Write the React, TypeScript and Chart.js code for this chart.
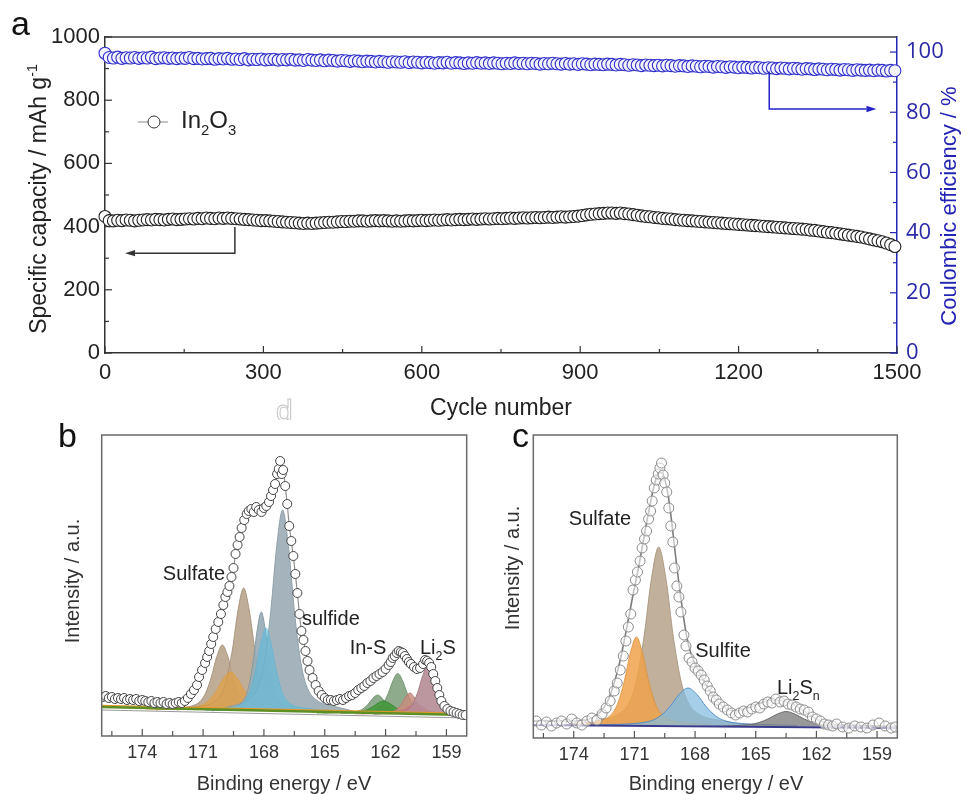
import React, { useEffect, useRef } from "react";
import { Chart, registerables } from "chart.js";
Chart.register(...registerables);

const FONT = '"Liberation Sans", Arial, sans-serif';
const FONT_R = '"Open Sans", "Liberation Sans", sans-serif';

// ================= Panel a data =================
const CYCLE_STEP = 8;
const CAPACITY = [
  432, 419, 418, 420, 419, 421, 420, 418, 420, 421,
  422, 421, 423, 422, 421, 423, 424, 422, 423, 424,
  425, 424, 426, 425, 427, 426, 425, 427, 426, 427,
  426, 425, 424, 423, 422, 421, 420, 419, 419, 418,
  417, 416, 415, 414, 413, 412, 411, 410, 411, 410,
  411, 412, 413, 414, 414, 415, 416, 416, 417, 417,
  418, 418, 417, 418, 419, 418, 419, 418, 417, 418,
  417, 418, 419, 418, 419, 420, 419, 420, 421, 420,
  421, 422, 421, 422, 423, 422, 423, 424, 423, 424,
  425, 424, 425, 426, 425, 426, 427, 426, 427, 428,
  427, 428, 429, 428, 429, 430, 429, 430, 431, 430,
  431, 432, 433, 435, 437, 439, 440, 441, 442, 443,
  443, 442, 443, 441, 440, 438, 436, 434, 432, 431,
  429, 428, 426, 425, 424, 422, 421, 420, 419, 418,
  417, 416, 415, 414, 413, 412, 411, 410, 409, 408,
  407, 406, 405, 404, 403, 402, 401, 400, 399, 398,
  397, 396, 395, 394, 393, 392, 391, 389, 388, 386,
  384, 382, 381, 379, 377, 375, 373, 371, 369, 367,
  364, 361, 358, 355, 352, 348, 343, 337,
];
const EFFICIENCY = [
  99.6, 98.2, 98.0, 98.3, 97.9, 98.1, 98.0, 98.2, 97.9, 98.1,
  98.0, 98.3, 97.8, 98.0, 98.1, 97.9, 98.0, 97.8, 98.0, 97.9,
  98.2, 97.8, 97.9, 97.7, 97.8, 97.9, 97.6, 97.8, 97.7, 97.9,
  97.6, 97.7, 97.5, 97.8, 97.4, 97.6, 97.5, 97.7, 97.4, 97.5,
  97.6, 97.3, 97.5, 97.4, 97.6, 97.3, 97.4, 97.2, 97.5, 97.3,
  97.2, 97.4, 97.1, 97.3, 97.2, 97.0, 97.2, 97.1, 96.9, 97.1,
  97.0, 96.8, 97.0, 96.9, 96.7, 96.9, 96.8, 96.6, 96.8, 96.7,
  96.6, 96.8, 96.5, 96.7, 96.6, 96.4, 96.6, 96.5, 96.3, 96.5,
  96.4, 96.6, 96.3, 96.5, 96.4, 96.2, 96.4, 96.3, 96.5, 96.3,
  96.4, 96.2, 96.4, 96.3, 96.1, 96.3, 96.2, 96.4, 96.2, 96.3,
  96.1, 96.3, 96.2, 96.0, 96.2, 96.1, 96.3, 96.1, 96.0, 96.2,
  96.0, 96.1, 95.9, 96.1, 96.0, 95.8, 96.0, 95.9, 95.8, 96.0,
  95.9, 95.7, 95.9, 95.8, 95.6, 95.8, 95.7, 95.5, 95.7, 95.6,
  95.5, 95.6, 95.4, 95.6, 95.5, 95.3, 95.5, 95.4, 95.2, 95.4,
  95.3, 95.1, 95.3, 95.2, 95.0, 95.2, 95.1, 94.9, 95.1, 95.0,
  94.8, 95.0, 94.9, 94.7, 94.9, 94.8, 94.6, 94.8, 94.7, 94.5,
  94.7, 94.6, 94.4, 94.6, 94.5, 94.3, 94.5, 94.4, 94.2, 94.4,
  94.3, 94.1, 94.3, 94.2, 94.0, 94.2, 94.1, 93.9, 94.1, 94.0,
  93.9, 94.0, 93.8, 94.0, 93.9, 93.7, 93.9, 93.8,
];
const CYCLE_TICKS = [0, 300, 600, 900, 1200, 1500];
const CAP_TICKS = [0, 200, 400, 600, 800, 1000];
const CE_TICKS = [0, 20, 40, 60, 80, 100];
// arrow annotations: [cycle, value]
const CAP_ARROW = [[246, 399], [246, 316], [38, 316]];
const CE_ARROW = [[1258, 93.5], [1258, 81.1], [1461, 81.1]];

// ================= Panel b data (binding energy eV, intensity a.u.) =================
const BE_TICKS = [174, 171, 168, 165, 162, 159];
const B_RAW = [
  [175.95, 39], [175.8, 40], [175.65, 38], [175.5, 39], [175.35, 37], [175.2, 38], [175.05, 37], [174.9, 38],
  [174.75, 36], [174.6, 37], [174.45, 36], [174.3, 37], [174.15, 35], [174.0, 36], [173.85, 35], [173.7, 34],
  [173.55, 35], [173.4, 33], [173.25, 34], [173.1, 33], [172.95, 34], [172.8, 32], [172.65, 33], [172.5, 32],
  [172.35, 33], [172.2, 34], [172.05, 33], [171.9, 35], [171.75, 38], [171.6, 42], [171.45, 46], [171.3, 51],
  [171.2, 59], [171.05, 66], [170.9, 73], [170.8, 79], [170.7, 85], [170.6, 92], [170.5, 99], [170.38, 107],
  [170.25, 114], [170.12, 122], [170.0, 131], [169.9, 139], [169.8, 144], [169.7, 150], [169.6, 159], [169.5, 168],
  [169.4, 182], [169.3, 191], [169.2, 199], [169.1, 208], [168.97, 216], [168.85, 222], [168.75, 225], [168.62, 227],
  [168.5, 224], [168.38, 229], [168.25, 226], [168.12, 224], [168.0, 228], [167.88, 230], [167.75, 234], [167.65, 240],
  [167.55, 246], [167.45, 252], [167.35, 262], [167.27, 267], [167.2, 275], [167.12, 262], [167.05, 266], [166.95, 250],
  [166.85, 232], [166.75, 210], [166.65, 195], [166.55, 180], [166.45, 162], [166.35, 143], [166.25, 122], [166.15, 105],
  [166.05, 96], [165.95, 85], [165.85, 75], [165.75, 66], [165.6, 58], [165.45, 51], [165.3, 45], [165.15, 41],
  [165.0, 38], [164.85, 36], [164.7, 36], [164.55, 35], [164.4, 36], [164.25, 37], [164.1, 36], [163.95, 38],
  [163.8, 40], [163.65, 41], [163.5, 43], [163.35, 46], [163.2, 48], [163.05, 50], [162.9, 53], [162.75, 55],
  [162.6, 58], [162.45, 60], [162.3, 62], [162.15, 64], [162.0, 67], [161.85, 71], [161.75, 74], [161.65, 78],
  [161.55, 80], [161.45, 83], [161.35, 85], [161.25, 84], [161.15, 83], [161.05, 80], [160.95, 77], [160.85, 74],
  [160.75, 72], [160.6, 69], [160.45, 67], [160.3, 68], [160.15, 72], [160.05, 76], [159.95, 75], [159.85, 73],
  [159.75, 69], [159.65, 62], [159.55, 55], [159.45, 48], [159.35, 41], [159.25, 35], [159.1, 30], [158.95, 27],
  [158.8, 25], [158.65, 24], [158.5, 23], [158.35, 22], [158.2, 21], [158.05, 21],
];
const B_TAN1 = [[173.35, 26], [172.25, 28], [171.7, 29.3], [171.15, 34.5], [170.875, 42.9], [170.6, 58.5], [170.325, 79.3], [170.05, 91], [169.775, 79.3], [169.5, 58.5], [169.225, 42.9], [168.95, 34.5], [168.4, 29.3], [167.85, 28], [166.75, 26]];
const B_TAN2 = [[172.3, 26], [171.2, 29.7], [170.65, 32.1], [170.1, 41.9], [169.825, 57.7], [169.55, 87], [169.275, 126], [169.0, 148], [168.725, 126], [168.45, 87], [168.175, 57.7], [167.9, 41.9], [167.35, 32.1], [166.8, 29.7], [165.7, 26]];
const B_ORANGE = [[173.85, 26], [172.45, 27.1], [171.75, 27.9], [171.05, 30.9], [170.7, 35.9], [170.35, 45], [170.0, 57.2], [169.65, 64], [169.3, 57.2], [168.95, 45], [168.6, 35.9], [168.25, 30.9], [167.55, 27.9], [166.85, 27.1], [165.45, 26]];
const B_SLATE1 = [[170.53, 25.5], [169.73, 28.5], [169.33, 30.4], [168.93, 38.3], [168.73, 51.1], [168.53, 74.8], [168.33, 106.3], [168.13, 124], [167.93, 106.3], [167.73, 74.8], [167.53, 51.1], [167.33, 38.3], [166.93, 30.4], [166.53, 28.5], [165.73, 25.5]];
const B_SLATE2 = [[170.56, 25], [169.4, 31], [168.82, 35.1], [168.24, 51.1], [167.95, 77.3], [167.66, 125.5], [167.37, 189.8], [167.08, 226], [166.79, 189.8], [166.5, 125.5], [166.21, 77.3], [165.92, 51.1], [165.34, 35.1], [164.76, 31], [163.6, 25]];
const B_SKY = [[170.9, 25.3], [169.9, 27.8], [169.4, 29.4], [168.9, 36.1], [168.65, 46.8], [168.4, 66.7], [168.15, 93.1], [167.9, 108], [167.65, 93.1], [167.4, 66.7], [167.15, 46.8], [166.9, 36.1], [166.4, 29.4], [165.9, 27.8], [164.9, 25.3]];
const B_SAGE1 = [[164.22, 22.6], [163.28, 23.8], [162.81, 24.6], [162.34, 27.8], [162.105, 33], [161.87, 42.6], [161.635, 55.4], [161.4, 62.6], [161.165, 55.4], [160.93, 42.6], [160.695, 33], [160.46, 27.8], [159.99, 24.6], [159.52, 23.8], [158.58, 22.6]];
const B_SAGE2 = [[165.1, 23], [164.2, 23.5], [163.75, 23.9], [163.3, 25.3], [163.075, 27.7], [162.85, 32], [162.625, 37.8], [162.4, 41], [162.175, 37.8], [161.95, 32], [161.725, 27.7], [161.5, 25.3], [161.05, 23.9], [160.6, 23.5], [159.7, 23]];
const B_GREEN = [[165.4, 23], [164.3, 23.4], [163.75, 23.6], [163.2, 24.6], [162.925, 26.1], [162.65, 29], [162.375, 32.8], [162.1, 35], [161.825, 32.8], [161.55, 29], [161.275, 26.1], [161.0, 24.6], [160.45, 23.6], [159.9, 23.4], [158.8, 23]];
const B_SALMON = [[163.2, 22.2], [162.4, 22.8], [162.0, 23.2], [161.6, 24.9], [161.4, 27.6], [161.2, 32.6], [161.0, 39.3], [160.8, 43], [160.6, 39.3], [160.4, 32.6], [160.2, 27.6], [160.0, 24.9], [159.6, 23.2], [159.2, 22.8], [158.4, 22.2]];
const B_PINK = [[163.5, 22], [162.5, 22.3], [162.0, 22.5], [161.5, 23.3], [161.25, 24.6], [161.0, 27], [160.75, 30.2], [160.5, 32], [160.25, 30.2], [160.0, 27], [159.75, 24.6], [159.5, 23.3], [159.0, 22.5], [158.5, 22.3], [157.5, 22]];
const B_MAUVE = [[162.59, 21.8], [161.71, 23.2], [161.27, 24.2], [160.83, 27.9], [160.61, 34], [160.39, 45.3], [160.17, 60.3], [159.95, 68.8], [159.73, 60.3], [159.51, 45.3], [159.29, 34], [159.07, 27.9], [158.63, 24.2], [158.19, 23.2], [157.31, 21.8]];
const B_BASE_GRAY = [[176, 26], [158, 18]];
const B_BASE_GREEN = [[176, 29], [158, 21]];
const B_BASE_ORANGE = [[176, 30.5], [158, 22.5]];

// ================= Panel c data =================
const C_RAW = [
  [175.85, 17], [175.6, 13], [175.35, 16], [175.1, 12], [174.85, 15], [174.6, 17], [174.35, 14], [174.1, 19],
  [173.85, 15], [173.6, 13], [173.35, 17], [173.1, 20], [172.85, 18], [172.6, 24], [172.4, 30], [172.2, 37],
  [172.0, 47], [171.85, 55], [171.7, 68], [171.55, 82], [171.42, 97], [171.3, 111], [171.18, 124], [171.07, 148],
  [170.95, 158], [170.85, 166], [170.72, 177], [170.62, 190], [170.5, 199], [170.4, 207], [170.3, 219], [170.2, 227],
  [170.12, 237], [170.02, 250], [169.92, 258], [169.82, 264], [169.74, 270], [169.66, 275], [169.58, 263], [169.5, 255],
  [169.4, 246], [169.3, 230], [169.2, 212], [169.1, 196], [169.02, 170], [168.9, 152], [168.8, 141], [168.7, 126],
  [168.55, 103], [168.45, 92], [168.3, 80], [168.15, 76], [168.0, 70], [167.85, 67], [167.7, 63], [167.55, 58],
  [167.4, 52], [167.25, 47], [167.1, 41], [166.95, 38], [166.8, 34], [166.6, 31], [166.4, 28], [166.2, 25],
  [166.0, 23], [165.8, 25], [165.6, 27], [165.4, 26], [165.2, 29], [165.0, 31], [164.8, 30], [164.6, 34],
  [164.4, 36], [164.2, 35], [164.0, 39], [163.8, 36], [163.6, 37], [163.4, 34], [163.2, 33], [163.0, 31],
  [162.8, 29], [162.6, 28], [162.4, 26], [162.2, 21], [162.0, 19], [161.8, 17], [161.6, 14], [161.4, 13],
  [161.2, 12], [161.0, 14], [160.7, 11], [160.4, 10], [160.1, 12], [159.8, 11], [159.5, 10], [159.2, 13],
  [158.9, 15], [158.6, 12], [158.3, 10], [158.1, 11],
];
const C_ENVELOPE = [
  [176, 17], [175, 17], [174, 17], [173.4, 18], [173.0, 21], [172.6, 28], [172.3, 38], [172.0, 55],
  [171.7, 78], [171.4, 108], [171.1, 140], [170.8, 170], [170.5, 204], [170.2, 236], [169.95, 258], [169.75, 267],
  [169.55, 262], [169.35, 245], [169.15, 215], [169.0, 188], [168.8, 155], [168.6, 125], [168.4, 100], [168.2, 84],
  [168.0, 74], [167.8, 66], [167.5, 55], [167.2, 45], [166.9, 37], [166.6, 31], [166.3, 28], [166.0, 27],
  [165.7, 28], [165.4, 30], [165.1, 32], [164.8, 35], [164.5, 37], [164.2, 38], [163.9, 38], [163.6, 37],
  [163.3, 35], [163.0, 32], [162.7, 28], [162.4, 24], [162.1, 20], [161.8, 17], [161.5, 15], [161.0, 13.5],
  [160.0, 12.5], [159.0, 12], [158.0, 11.5],
];
const C_TAN = [[174.12, 13], [172.68, 18.3], [171.96, 21.9], [171.24, 36.1], [170.88, 59.3], [170.52, 102], [170.16, 159], [169.8, 191], [169.44, 159], [169.08, 102], [168.72, 59.3], [168.36, 36.1], [167.64, 21.9], [166.92, 18.3], [165.48, 13]];
const C_ORANGE = [[174.5, 13], [173.3, 15.6], [172.7, 17.4], [172.1, 24.4], [171.8, 35.9], [171.5, 57], [171.2, 85.2], [170.9, 101], [170.6, 85.2], [170.3, 57], [170.0, 35.9], [169.7, 24.4], [169.1, 17.4], [168.5, 15.6], [167.3, 13]];
const C_SKY = [[173.75, 12.5], [171.95, 13.6], [171.05, 14.4], [170.15, 17.4], [169.7, 22.3], [169.25, 31.3], [168.8, 43.3], [168.35, 50], [167.9, 43.3], [167.45, 31.3], [167.0, 22.3], [166.55, 17.4], [165.65, 14.4], [164.75, 13.6], [162.95, 12.5]];
const C_GRAY = [[168.9, 11.5], [167.1, 12], [166.2, 12.3], [165.3, 13.5], [164.85, 15.4], [164.4, 19], [163.95, 23.8], [163.5, 26.5], [163.05, 23.8], [162.6, 19], [162.15, 15.4], [161.7, 13.5], [160.8, 12.3], [159.9, 12], [158.1, 11.5]];
const C_BASE = [[176, 13], [158, 10]];

// ================= helpers =================
type Part = { t: string; sub?: boolean; sup?: boolean };

function drawRich(ctx: CanvasRenderingContext2D, parts: Part[], x: number, y: number, size: number, color: string, align: "left" | "center") {
  ctx.save();
  ctx.fillStyle = color;
  ctx.textBaseline = "alphabetic";
  ctx.textAlign = "left";
  const small = size * 0.62;
  let w = 0;
  parts.forEach((p) => {
    ctx.font = `${p.sub || p.sup ? small : size}px ${FONT}`;
    w += ctx.measureText(p.t).width;
  });
  let cx = align === "center" ? x - w / 2 : x;
  parts.forEach((p) => {
    const s = p.sub || p.sup ? small : size;
    ctx.font = `${s}px ${FONT}`;
    const dy = p.sub ? size * 0.3 : p.sup ? -size * 0.4 : 0;
    ctx.fillText(p.t, cx, y + dy);
    cx += ctx.measureText(p.t).width;
  });
  ctx.restore();
}

function drawVertical(ctx: CanvasRenderingContext2D, parts: Part[], cx: number, cy: number, size: number, color: string) {
  ctx.save();
  ctx.translate(cx, cy);
  ctx.rotate(-Math.PI / 2);
  drawRich(ctx, parts, 0, size * 0.36, size, color, "center");
  ctx.restore();
}

function minorsOf(majors: number[], min: number, max: number) {
  const step = Math.abs(majors[1] - majors[0]);
  const out: number[] = [];
  majors.forEach((m) => {
    [m - step / 2, m + step / 2].forEach((v) => {
      if (v > min + 1e-6 && v < max - 1e-6 && !out.some((o) => Math.abs(o - v) < 1e-6)) out.push(v);
    });
  });
  return out;
}

function drawTicks(ctx: CanvasRenderingContext2D, scale: any, side: "bottom" | "left" | "right", majors: number[], color: string, majorLen: number, minorLen: number) {
  const minors = minorsOf(majors, scale.min, scale.max);
  ctx.save();
  ctx.strokeStyle = color;
  ctx.lineWidth = 1.2;
  const one = (v: number, len: number) => {
    const p = scale.getPixelForValue(v);
    ctx.beginPath();
    if (side === "bottom") {
      ctx.moveTo(p, scale.top);
      ctx.lineTo(p, scale.top - len);
    } else if (side === "left") {
      ctx.moveTo(scale.right, p);
      ctx.lineTo(scale.right + len, p);
    } else {
      ctx.moveTo(scale.left, p);
      ctx.lineTo(scale.left - len, p);
    }
    ctx.stroke();
  };
  majors.forEach((v) => one(v, majorLen));
  minors.forEach((v) => one(v, minorLen));
  ctx.restore();
}

function drawArrow(ctx: CanvasRenderingContext2D, pts: number[][], color: string) {
  const n = pts.length;
  const [x1, y1] = pts[n - 2];
  const [x2, y2] = pts[n - 1];
  const a = Math.atan2(y2 - y1, x2 - x1);
  const L = 10, W = 3.2;
  const bx = x2 - L * Math.cos(a), by = y2 - L * Math.sin(a);
  ctx.save();
  ctx.strokeStyle = color;
  ctx.fillStyle = color;
  ctx.lineWidth = 1.5;
  ctx.beginPath();
  ctx.moveTo(pts[0][0], pts[0][1]);
  for (let i = 1; i < n - 1; i++) ctx.lineTo(pts[i][0], pts[i][1]);
  ctx.lineTo(bx, by);
  ctx.stroke();
  ctx.beginPath();
  ctx.moveTo(x2, y2);
  ctx.lineTo(bx - W * Math.sin(a), by + W * Math.cos(a));
  ctx.lineTo(bx + W * Math.sin(a), by - W * Math.cos(a));
  ctx.closePath();
  ctx.fill();
  ctx.restore();
}

const toXY = (pts: number[][]) => pts.map(([x, y]) => ({ x, y }));

function peak(pts: number[][], fill: string, border: string) {
  return {
    data: toXY(pts),
    backgroundColor: fill,
    borderColor: border,
    borderWidth: 1,
    pointRadius: 0,
    fill: { value: pts[0][1] },
    cubicInterpolationMode: "monotone",
  };
}
function plainLine(pts: number[][], color: string, width: number) {
  return { data: toXY(pts), borderColor: color, borderWidth: width, pointRadius: 0, fill: false };
}
function ordered(list: any[]) {
  // list given bottom -> top; Chart.js draws higher "order" first
  return list.map((d, i) => ({ ...d, order: list.length - i }));
}

// ================= panel a config =================
function makeA() {
  const capData = CAPACITY.map((v, i) => ({ x: i * CYCLE_STEP, y: v }));
  const ceData = EFFICIENCY.map((v, i) => ({ x: i * CYCLE_STEP, y: v }));
  const decor = {
    id: "decorA",
    afterDraw(chart: any) {
      const ctx = chart.ctx as CanvasRenderingContext2D;
      const { left, right, top } = chart.chartArea;
      const x = chart.scales.x, y = chart.scales.y, y1 = chart.scales.y1;
      ctx.save();
      ctx.strokeStyle = "#3a3a3a";
      ctx.lineWidth = 1.5;
      ctx.beginPath();
      ctx.moveTo(left, top);
      ctx.lineTo(right, top);
      ctx.stroke();
      ctx.restore();
      drawTicks(ctx, x, "bottom", CYCLE_TICKS, "#333", 7, 4);
      drawTicks(ctx, y, "left", CAP_TICKS, "#333", 7, 4);
      drawTicks(ctx, y1, "right", CE_TICKS, "#2424b8", 7, 4);
      drawArrow(ctx, CAP_ARROW.map(([c, v]) => [x.getPixelForValue(c), y.getPixelForValue(v)]), "#333");
      drawArrow(ctx, CE_ARROW.map(([c, v]) => [x.getPixelForValue(c), y1.getPixelForValue(v)]), "#2424c8");
      // legend
      ctx.save();
      ctx.strokeStyle = "#888";
      ctx.lineWidth = 1;
      ctx.beginPath();
      ctx.moveTo(138, 122);
      ctx.lineTo(168, 122);
      ctx.stroke();
      ctx.fillStyle = "#fff";
      ctx.strokeStyle = "#333";
      ctx.beginPath();
      ctx.arc(154, 122, 6, 0, Math.PI * 2);
      ctx.fill();
      ctx.stroke();
      ctx.restore();
      drawRich(ctx, [{ t: "In" }, { t: "2", sub: true }, { t: "O" }, { t: "3", sub: true }], 181, 128, 24, "#222", "left");
      // titles
      drawVertical(ctx, [{ t: "Specific capacity / mAh g" }, { t: "-1", sup: true }], 38, 199, 23, "#222");
      drawVertical(ctx, [{ t: "Coulombic efficiency / %" }], 948, 206, 22, "#2424b4");
      drawRich(ctx, [{ t: "Cycle number" }], 501, 415, 23, "#222", "center");
      // panel letter
      ctx.save();
      ctx.fillStyle = "#111";
      ctx.font = `34px ${FONT}`;
      ctx.fillText("a", 11, 35);
      ctx.strokeStyle = "#c4c4c4";
      ctx.lineWidth = 1;
      ctx.font = `30px ${FONT}`;
      ctx.strokeText("d", 276, 421);
      ctx.restore();
    },
  };
  const tickFont = { family: FONT, size: 22 };
  return {
    type: "line",
    data: {
      datasets: [
        {
          label: "CE",
          data: ceData,
          yAxisID: "y1",
          showLine: false,
          pointRadius: 6,
          pointBorderWidth: 1.1,
          pointBorderColor: "#3030cc",
          pointBackgroundColor: "#f3f3ff",
          clip: false,
        },
        {
          label: "In2O3",
          data: capData,
          yAxisID: "y",
          showLine: false,
          pointRadius: 6,
          pointBorderWidth: 1.1,
          pointBorderColor: "#222",
          pointBackgroundColor: "#fff",
          clip: false,
        },
      ],
    },
    options: {
      responsive: false,
      animation: false,
      events: [],
      layout: { padding: { top: 37, left: 0, right: 0, bottom: 0 } },
      plugins: { legend: { display: false }, tooltip: { enabled: false } },
      scales: {
        x: {
          type: "linear",
          min: 0,
          max: 1500,
          afterBuildTicks: (s: any) => { s.ticks = CYCLE_TICKS.map((v) => ({ value: v })); },
          afterFit: (s: any) => { s.height = 67; },
          ticks: { callback: (v: any) => String(v), font: tickFont, color: "#222", padding: 7, maxRotation: 0, autoSkip: false },
          grid: { display: false, drawTicks: false },
          border: { display: true, color: "#333", width: 1.5 },
        },
        y: {
          type: "linear",
          position: "left",
          min: 0,
          max: 1000,
          afterBuildTicks: (s: any) => { s.ticks = CAP_TICKS.map((v) => ({ value: v })); },
          afterFit: (s: any) => { s.width = 105; },
          ticks: { callback: (v: any) => String(v), font: tickFont, color: "#222", padding: 5 },
          grid: { display: false, drawTicks: false },
          border: { display: true, color: "#333", width: 1.5 },
        },
        y1: {
          type: "linear",
          position: "right",
          min: 0,
          max: 105,
          afterBuildTicks: (s: any) => { s.ticks = CE_TICKS.map((v) => ({ value: v })); },
          afterFit: (s: any) => { s.width = 69; },
          ticks: { callback: (v: any) => String(v), font: { family: FONT_R, size: 22 }, color: "#2a2aa8", padding: 9 },
          grid: { display: false, drawTicks: false },
          border: { display: true, color: "#2424b4", width: 1.5 },
        },
      },
    },
    plugins: [decor],
  };
}

// ================= panels b / c config =================
type Label = { parts: Part[]; x: number; y: number; align: "left" | "center" };

function makeXps(opts: {
  datasets: any[];
  ymax: number;
  padRight: number;
  yWidth: number;
  xHeight: number;
  letter: string;
  letterX: number;
  xTitle: [number, number];
  yTitle: [number, number];
  labels: Label[];
}) {
  const decor = {
    id: "decorXps",
    afterDraw(chart: any) {
      const ctx = chart.ctx as CanvasRenderingContext2D;
      const { left, right, top, bottom } = chart.chartArea;
      ctx.save();
      ctx.strokeStyle = "#6a6a6a";
      ctx.lineWidth = 1.5;
      ctx.strokeRect(left, top, right - left, bottom - top);
      ctx.restore();
      drawTicks(ctx, chart.scales.x, "bottom", BE_TICKS, "#555", 7, 5);
      drawRich(ctx, [{ t: "Binding energy / eV" }], opts.xTitle[0], opts.xTitle[1], 20, "#333", "center");
      drawVertical(ctx, [{ t: "Intensity / a.u." }], opts.yTitle[0], opts.yTitle[1], 20, "#333");
      opts.labels.forEach((l) => drawRich(ctx, l.parts, l.x, l.y, 20, "#222", l.align));
      ctx.save();
      ctx.fillStyle = "#111";
      ctx.font = `34px ${FONT}`;
      ctx.fillText(opts.letter, opts.letterX, 27);
      ctx.restore();
    },
  };
  return {
    type: "line",
    data: { datasets: ordered(opts.datasets) },
    options: {
      responsive: false,
      animation: false,
      events: [],
      layout: { padding: { top: 15, right: opts.padRight, left: 0, bottom: 0 } },
      plugins: { legend: { display: false }, tooltip: { enabled: false } },
      scales: {
        x: {
          type: "linear",
          reverse: true,
          min: 158,
          max: 176,
          afterBuildTicks: (s: any) => { s.ticks = BE_TICKS.map((v) => ({ value: v })); },
          afterFit: (s: any) => { s.height = opts.xHeight; },
          ticks: { callback: (v: any) => String(v), font: { family: FONT, size: 18 }, color: "#333", padding: 6, maxRotation: 0, autoSkip: false },
          grid: { display: false, drawTicks: false },
          border: { display: false },
        },
        y: {
          type: "linear",
          min: 0,
          max: opts.ymax,
          afterFit: (s: any) => { s.width = opts.yWidth; },
          ticks: { display: false },
          grid: { display: false, drawTicks: false },
          border: { display: false },
        },
      },
    },
    plugins: [decor],
  };
}

function makeB() {
  return makeXps({
    datasets: [
      peak(B_TAN1, "rgba(186,166,142,0.92)", "rgba(165,145,122,0.9)"),
      peak(B_TAN2, "rgba(186,166,142,0.92)", "rgba(165,145,122,0.9)"),
      peak(B_ORANGE, "rgba(238,158,45,0.55)", "rgba(230,150,40,0.5)"),
      peak(B_SLATE1, "rgba(152,172,182,0.92)", "rgba(130,152,162,0.9)"),
      peak(B_SLATE2, "rgba(160,176,184,0.95)", "rgba(138,156,166,0.9)"),
      peak(B_SKY, "rgba(92,188,222,0.6)", "rgba(90,180,215,0.6)"),
      peak(B_SAGE2, "rgba(128,162,128,0.9)", "rgba(110,145,110,0.9)"),
      peak(B_SAGE1, "rgba(132,164,130,0.92)", "rgba(110,145,110,0.9)"),
      peak(B_GREEN, "rgba(50,150,40,0.7)", "rgba(45,130,35,0.8)"),
      peak(B_SALMON, "rgba(200,140,125,0.85)", "rgba(180,120,110,0.8)"),
      peak(B_PINK, "rgba(236,110,130,0.6)", "rgba(220,100,120,0.6)"),
      peak(B_MAUVE, "rgba(182,140,150,0.9)", "rgba(160,120,130,0.9)"),
      plainLine(B_BASE_GRAY, "#9a9a9a", 1.2),
      plainLine(B_BASE_ORANGE, "#e39a2a", 1.5),
      plainLine(B_BASE_GREEN, "#5d8f25", 2.5),
      {
        data: toXY(B_RAW),
        showLine: true,
        borderColor: "#8f8f8f",
        borderWidth: 1.2,
        tension: 0.2,
        pointRadius: 4.5,
        pointBorderWidth: 1,
        pointBorderColor: "#444",
        pointBackgroundColor: "#fff",
        fill: false,
      },
    ],
    ymax: 301,
    padRight: 13.3,
    yWidth: 61.7,
    xHeight: 58,
    letter: "b",
    letterX: 18,
    xTitle: [244, 370],
    yTitle: [32, 161],
    labels: [
      { parts: [{ t: "Sulfate" }], x: 154, y: 160, align: "center" },
      { parts: [{ t: "sulfide" }], x: 262, y: 205, align: "left" },
      { parts: [{ t: "In-S" }], x: 328, y: 234, align: "center" },
      { parts: [{ t: "Li" }, { t: "2", sub: true }, { t: "S" }], x: 380, y: 234, align: "left" },
    ],
  });
}

function makeC() {
  return makeXps({
    datasets: [
      peak(C_TAN, "rgba(190,172,150,0.95)", "rgba(170,150,128,0.9)"),
      peak(C_ORANGE, "rgba(238,162,75,0.85)", "rgba(220,145,60,0.8)"),
      peak(C_SKY, "rgba(130,188,224,0.72)", "rgba(80,140,195,0.95)"),
      peak(C_GRAY, "rgba(128,128,128,0.8)", "rgba(100,100,100,0.9)"),
      plainLine(C_BASE, "#3a3a8c", 2),
      { ...plainLine(C_ENVELOPE, "#7c7c7c", 1.6), tension: 0.3 },
      {
        data: toXY(C_RAW),
        showLine: false,
        pointRadius: 5,
        pointBorderWidth: 1,
        pointBorderColor: "#8c8c8c",
        pointBackgroundColor: "rgba(255,255,255,0.55)",
        fill: false,
      },
    ],
    ymax: 303,
    padRight: 32.7,
    yWidth: 43.3,
    xHeight: 56,
    letter: "c",
    letterX: 22,
    xTitle: [226, 370],
    yTitle: [22, 148],
    labels: [
      { parts: [{ t: "Sulfate" }], x: 110, y: 105, align: "center" },
      { parts: [{ t: "Sulfite" }], x: 233, y: 237, align: "center" },
      { parts: [{ t: "Li" }, { t: "2", sub: true }, { t: "S" }, { t: "n", sub: true }], x: 287, y: 274, align: "left" },
    ],
  });
}

function ChartBox({ left, top, width, height, make }: { left: number; top: number; width: number; height: number; make: () => any }) {
  const ref = useRef<HTMLCanvasElement>(null);
  useEffect(() => {
    const chart = new Chart(ref.current as HTMLCanvasElement, make());
    return () => chart.destroy();
  }, []);
  return <canvas ref={ref} width={width} height={height} style={{ position: "absolute", left, top, width, height }} />;
}

export default function App() {
  return (
    <div style={{ position: "absolute", left: 0, top: 0, width: 966, height: 794, background: "#fff", overflow: "hidden" }}>
      <ChartBox left={0} top={0} width={966} height={420} make={makeA} />
      <ChartBox left={40} top={420} width={440} height={374} make={makeB} />
      <ChartBox left={490} top={420} width={440} height={374} make={makeC} />
    </div>
  );
}
